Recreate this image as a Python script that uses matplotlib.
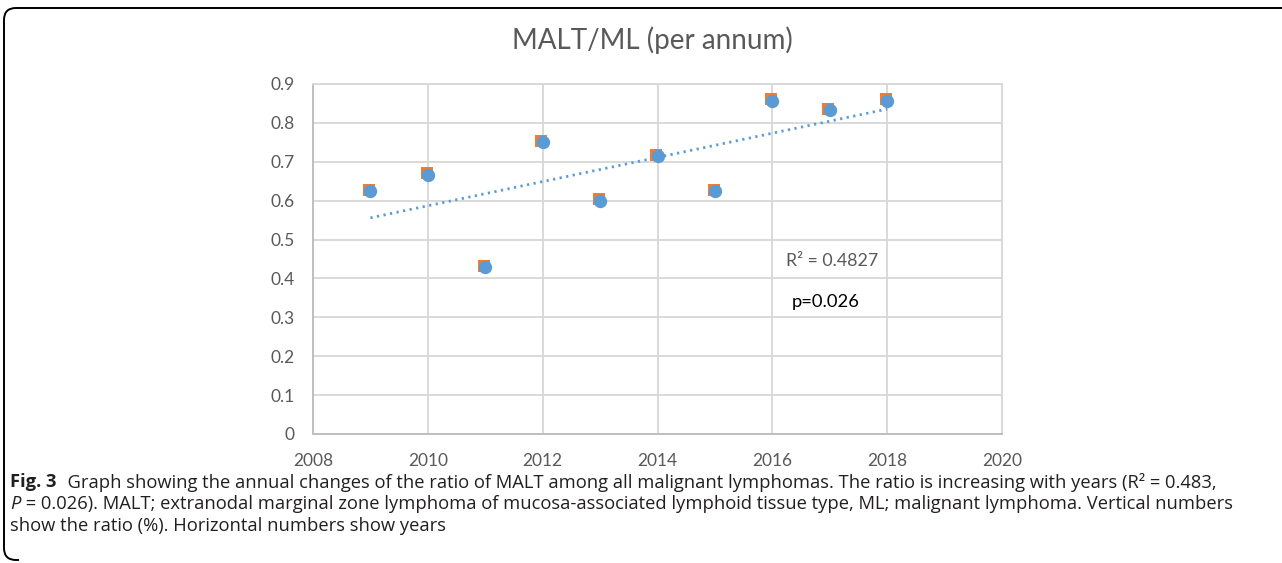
import numpy as np
import matplotlib
matplotlib.use('Agg')
import matplotlib.pyplot as plt
import matplotlib.transforms as mtransforms
from matplotlib.path import Path
from matplotlib.patches import PathPatch

# data
years = [2009, 2010, 2011, 2012, 2013, 2014, 2015, 2016, 2017, 2018]
ratio = [0.625, 0.667, 0.429, 0.750, 0.600, 0.714, 0.625, 0.857, 0.833, 0.857]
x_ticks = [2008, 2010, 2012, 2014, 2016, 2018, 2020]
y_ticks = [0, 0.1, 0.2, 0.3, 0.4, 0.5, 0.6, 0.7, 0.8, 0.9]
y_tick_labels = ['0', '0.1', '0.2', '0.3', '0.4', '0.5', '0.6', '0.7', '0.8', '0.9']
title = 'MALT/ML (per annum)'
r2_text = 'R² = 0.4827'
p_text = 'p=0.026'

W, H = 1282, 563
chart_font = ['Lato', 'DejaVu Sans']
cap_font = ['Open Sans', 'DejaVu Sans']
grey = '#595959'

fig = plt.figure(figsize=(W / 100, H / 100), dpi=100)


def fx(x):
    return x / W


def fy(y):
    return 1 - y / H


ax = fig.add_axes([fx(313), fy(434), fx(1002 - 313), (434 - 84) / H])
ax.set_xlim(2008, 2020)
ax.set_ylim(0, 0.9)
ax.set_xticks(x_ticks)
ax.set_yticks(y_ticks)
ax.set_yticklabels(y_tick_labels)
ax.grid(True, color='#D9D9D9', lw=1.4, zorder=0)
ax.set_axisbelow(True)
for side in ['top', 'right']:
    ax.spines[side].set_color('#D9D9D9')
    ax.spines[side].set_linewidth(1.4)
for side in ['left', 'bottom']:
    ax.spines[side].set_color('#BFBFBF')
    ax.spines[side].set_linewidth(1.4)
ax.tick_params(length=0, colors=grey, labelsize=12.5)
ax.tick_params(axis='x', pad=14)
ax.tick_params(axis='y', pad=13)
for lab in ax.get_xticklabels() + ax.get_yticklabels():
    lab.set_family(chart_font)

# orange squares sit just behind the blue circles
shifted = mtransforms.offset_copy(ax.transData, fig=fig, x=-1.3, y=1.3, units='dots')
ax.plot(years, ratio, 's', color='#ED7D31', ms=8.3, mew=0, transform=shifted, zorder=3)
ax.plot(years, ratio, 'o', color='#5B9BD5', ms=9.6, mew=0, zorder=4)

# linear trend line
fit = np.polyfit(years, ratio, 1)
xs = np.array([years[0], years[-1]])
ax.plot(xs, np.polyval(fit, xs), color='#5B9BD5', lw=2, ls=(0, (0.8, 1.6)), zorder=2)

fig.text(fx(652), fy(40), title, ha='center', va='center', fontsize=20,
         color=grey, family=chart_font)
fig.text(fx(786), fy(261), r2_text, ha='left', va='center', fontsize=12.8,
         color=grey, family=chart_font)
fig.text(fx(792), fy(302), p_text, ha='left', va='center', fontsize=13.2,
         color='black', family=chart_font)

# caption
renderer = fig.canvas.get_renderer()
cap_col = '#231F20'
line1 = [('Fig. 3', {'weight': 'bold'}),
         ('  Graph showing the annual changes of the ratio of MALT among all malignant '
          'lymphomas. The ratio is increasing with years (R² = 0.483,', {})]
line2 = [('P', {'style': 'italic'}),
         (' = 0.026). MALT; extranodal marginal zone lymphoma of mucosa-associated '
          'lymphoid tissue type, ML; malignant lymphoma. Vertical numbers', {})]
line3 = [('show the ratio (%). Horizontal numbers show years', {})]


def put_run(x, y, parts, size):
    texts = []
    for txt, kw in parts:
        t = fig.text(fx(x), fy(y), txt, ha='left', va='center', fontsize=size,
                     color=cap_col, family=cap_font, **kw)
        x = t.get_window_extent(renderer).x1 + 1
        texts.append(t)
    return x, texts


# size the caption so its second line ends where the reference's does
end, probe = put_run(10, 499, line2, 12)
cap_size = 12 * (1232 - 10) / (end - 10)
for t in probe:
    t.remove()

put_run(10, 482, line1, cap_size)
put_run(10, 504, line2, cap_size)
put_run(10, 526, line3, cap_size)

# frame: top and left edges with rounded corners
r = 12
pts = [(W, 8), (4 + r, 8), (4, 8), (4, 8 + r), (4, 560 - r), (4, 560), (4 + r, 560), (4 + r + 3, 560)]
codes = [Path.MOVETO, Path.LINETO, Path.CURVE3, Path.CURVE3, Path.LINETO,
         Path.CURVE3, Path.CURVE3, Path.LINETO]
frame = Path([(fx(a), fy(b)) for a, b in pts], codes)
fig.patches.append(PathPatch(frame, transform=fig.transFigure, fill=False,
                             edgecolor='black', lw=1.4))

fig.savefig('out.png', dpi=100)
